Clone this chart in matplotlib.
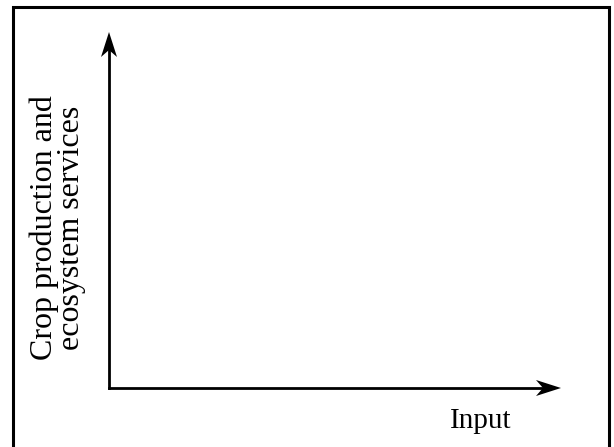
import matplotlib.pyplot as plt
from matplotlib.patches import Polygon

plt.rcParams['font.family'] = ['Liberation Serif', 'DejaVu Serif']

# conceptual diagram: axis extents (pixel-like units, y down)
origin = (109, 388)
x_end = 561
y_end = 32
frame = [13, 609, 7]  # left, right, top
ylabel = 'Crop production and\necosystem services'
xlabel = 'Input'

fig = plt.figure(figsize=(6.14, 4.47), dpi=100)
ax = fig.add_axes([0, 0, 1, 1])
ax.set_xlim(0, 614)
ax.set_ylim(447, 0)
ax.axis('off')

# outer frame (open at bottom)
ax.plot([frame[0], frame[0], frame[1], frame[1]], [447, frame[2], frame[2], 447],
        color='black', lw=2.2, solid_joinstyle='miter')

def stealth(tip, direction, length=25, width=16, notch=7):
    tx, ty = tip
    dx, dy = direction
    px, py = -dy, dx
    back = (tx - dx * length, ty - dy * length)
    mid = (tx - dx * (length - notch), ty - dy * (length - notch))
    pts = [tip,
           (back[0] + px * width / 2, back[1] + py * width / 2),
           mid,
           (back[0] - px * width / 2, back[1] - py * width / 2)]
    ax.add_patch(Polygon(pts, closed=True, color='black', lw=0))

# axes lines
ax.plot([origin[0], origin[0]], [origin[1], y_end + 15], color='black', lw=2)
ax.plot([origin[0], x_end - 15], [origin[1], origin[1]], color='black', lw=2)
stealth((origin[0], y_end), (0, -1))
stealth((x_end, origin[1]), (1, 0))

ax.text(58, 228, ylabel, rotation=90, ha='center', va='center',
        fontsize=23, linespacing=0.9)
ax.text(481, 421, xlabel, ha='center', va='center', fontsize=21)

fig.savefig('out.png', dpi=100)
